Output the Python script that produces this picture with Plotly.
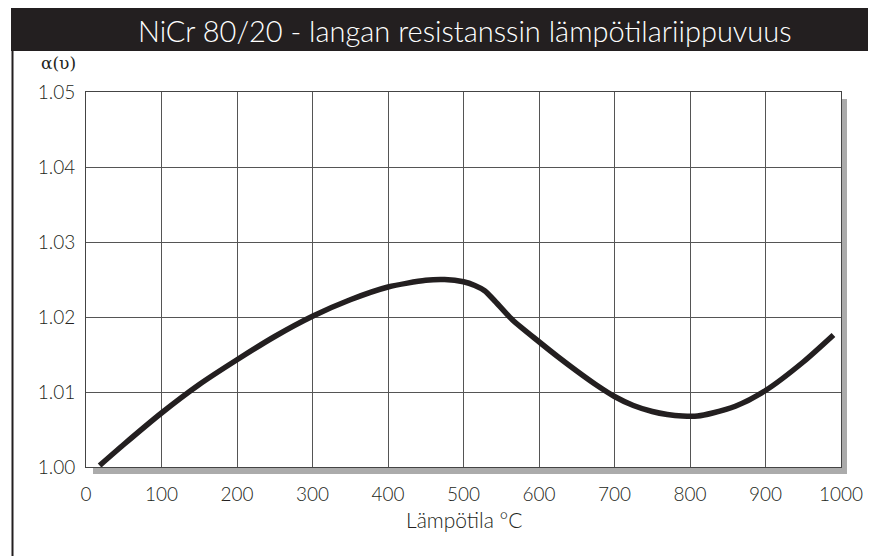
import plotly.graph_objects as go

temps = [18, 50, 100, 150, 200, 250, 300, 350, 400, 450, 475, 500, 515, 528, 540,
         565, 600, 625, 650, 675, 700, 725, 750, 770, 790, 810, 830, 860, 900, 950, 990]
alpha = [1.0002, 1.0030, 1.0072, 1.0110, 1.0143, 1.0174, 1.0201, 1.0223, 1.0240,
         1.0249, 1.0250, 1.0247, 1.0242, 1.0235, 1.0223, 1.0196, 1.0167, 1.0147,
         1.0128, 1.0110, 1.0094, 1.0082, 1.0074, 1.0070, 1.0068, 1.0068, 1.0072,
         1.0081, 1.0102, 1.0140, 1.0176]
x_ticks = [0, 100, 200, 300, 400, 500, 600, 700, 800, 900, 1000]
y_ticks = [1.00, 1.01, 1.02, 1.03, 1.04, 1.05]
y_tick_text = ["1.00", "1.01", "1.02", "1.03", "1.04", "1.05"]

OFF = 8  # default page body margin
W, H = 876 - OFF, 556 - OFF
L, R, T, B = 86, 841, 92, 467
pw, ph = R - L, B - T


def px(x):
    return (x - L) / pw


def py(y):
    return (B - y) / ph


FONT = "Lato, 'Open Sans', sans-serif"

fig = go.Figure()
fig.add_trace(go.Scatter(
    x=temps, y=alpha, mode="lines",
    line=dict(color="#231f20", width=5.5, shape="spline", smoothing=0.7),
    hoverinfo="skip", showlegend=False,
))

shapes = [
    dict(type="rect", xref="paper", yref="paper", x0=px(11), x1=px(884), y0=py(51), y1=py(6),
         fillcolor="#231f20", line=dict(width=0), layer="above"),
    dict(type="rect", xref="paper", yref="paper", x0=px(11.5), x1=px(13.5), y0=py(570), y1=py(50),
         fillcolor="#231f20", line=dict(width=0), layer="above"),
    dict(type="rect", xref="paper", yref="paper", x0=px(841), x1=px(847), y0=py(474), y1=py(99),
         fillcolor="#ababab", line=dict(width=0), layer="below"),
    dict(type="rect", xref="paper", yref="paper", x0=px(93), x1=px(847), y0=py(474), y1=py(467),
         fillcolor="#ababab", line=dict(width=0), layer="below"),
]

annotations = [
    dict(text="NiCr 80/20 - langan resistanssin lämpötilariippuvuus", xref="paper", yref="paper",
         x=px(465), y=py(30), xanchor="center", yanchor="middle", showarrow=False,
         font=dict(family=FONT, size=29, color="white", weight=300)),
    dict(text="α(υ)", xref="paper", yref="paper", x=px(39), y=py(63),
         xanchor="left", yanchor="middle", showarrow=False,
         font=dict(family="'DejaVu Serif', serif", size=17, color="#231f20")),
    dict(text="Lämpötila °C", xref="paper", yref="paper", x=px(464), y=py(519),
         xanchor="center", yanchor="middle", showarrow=False,
         font=dict(family=FONT, size=21, color="#231f20", weight=300)),
]

fig.update_layout(
    width=W, height=H,
    margin=dict(l=L - OFF, r=W - (R - OFF), t=T - OFF, b=H - (B - OFF), pad=0),
    paper_bgcolor="white", plot_bgcolor="white",
    shapes=shapes, annotations=annotations,
    font=dict(family=FONT, color="#231f20"),
    xaxis=dict(range=[0, 1000], tickvals=x_ticks, ticks="", showgrid=True,
               gridcolor="#555555", gridwidth=1, showline=True, linecolor="#444444",
               linewidth=1, mirror=True, zeroline=False, ticklabelstandoff=10,
               tickfont=dict(family=FONT, size=19, color="#231f20", weight=300)),
    yaxis=dict(range=[1.0, 1.05], tickvals=y_ticks, ticktext=y_tick_text, ticks="",
               showgrid=True, gridcolor="#555555", gridwidth=1, showline=True,
               linecolor="#444444", linewidth=1, mirror=True, zeroline=False,
               ticklabelstandoff=6,
               tickfont=dict(family=FONT, size=19, color="#231f20", weight=300)),
)

fig.write_html("out.html")
